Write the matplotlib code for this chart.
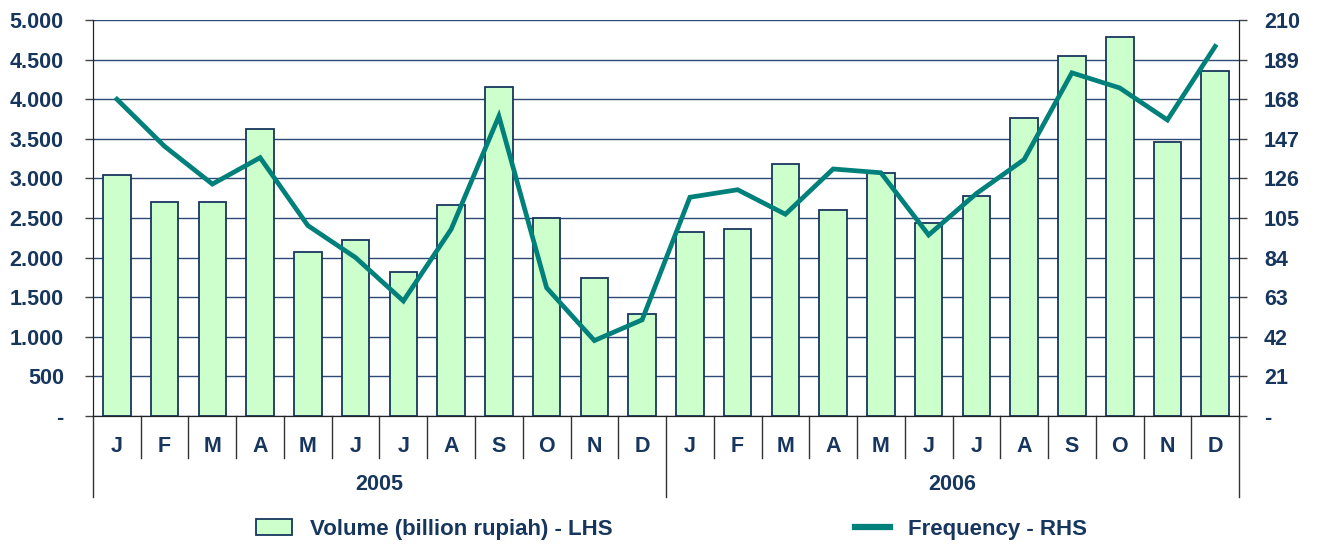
import numpy as np
import matplotlib.pyplot as plt
from matplotlib.lines import Line2D
from matplotlib.patches import Patch

plt.rcParams['font.family'] = ['Liberation Sans', 'DejaVu Sans']

months = ['J', 'F', 'M', 'A', 'M', 'J', 'J', 'A', 'S', 'O', 'N', 'D'] * 2
years = ['2005', '2006']

# volume, billion rupiah (left axis)
volume = [3045, 2705, 2700, 3630, 2075, 2228, 1815, 2670, 4148, 2505, 1745, 1285,
          2328, 2365, 3188, 2606, 3073, 2435, 2783, 3768, 4548, 4787, 3462, 4362]
# frequency (right axis)
frequency = [168, 143, 123, 137, 101, 84, 61, 99, 159, 68, 40, 51,
             116, 120, 107, 131, 129, 96, 118, 136, 182, 174, 157, 196]

navy = '#17365D'
teal = '#00807A'

fig = plt.figure(figsize=(13.17, 5.44), dpi=100)
ax = fig.add_axes([0.0706, 0.2353, 0.8702, 0.7279])
ax2 = ax.twinx()

x = np.arange(len(volume))
ax.bar(x, volume, width=0.58, color='#CCFFCC', edgecolor=navy, linewidth=1.3, zorder=2)
ax2.plot(x, frequency, color=teal, linewidth=3.4, solid_joinstyle='miter', zorder=3)

ax.set_xlim(-0.5, 23.5)
ax.set_ylim(0, 5000)
ax2.set_ylim(0, 210)

lticks = np.arange(0, 5001, 500)
ax.set_yticks(lticks)
ax.set_yticklabels(['-'] + ['{:,}'.format(v).replace(',', '.') for v in lticks[1:]])
rticks = np.arange(0, 211, 21)
ax2.set_yticks(rticks)
ax2.set_yticklabels(['-'] + [str(v) for v in rticks[1:]])

ax.yaxis.grid(True, color='#2E4A72', linewidth=1.0, zorder=0)
ax.set_axisbelow(True)
ax.set_xticks([])

for a in (ax, ax2):
    a.tick_params(axis='y', labelsize=15.5, labelcolor=navy, length=6, width=1,
                  color='#444444')
    for lab in a.get_yticklabels():
        lab.set_fontweight('bold')
    a.spines['top'].set_visible(False)
    a.spines['left'].set_color('#222222')
    a.spines['right'].set_color('#222222')
    a.spines['bottom'].set_color('#222222')
ax.tick_params(axis='y', pad=15)
ax2.tick_params(axis='y', pad=12)

# month and year labels under the axis
tr = ax.get_xaxis_transform()
for i, m in enumerate(months):
    ax.text(i, -0.076, m, transform=tr, ha='center', va='center',
            fontsize=15.5, fontweight='bold', color=navy)
for i in range(1, len(months)):
    if i % 12 != 0:
        ax.plot([i - 0.5, i - 0.5], [0, -0.106], transform=tr, color='#333333',
                linewidth=1, clip_on=False)
for i in range(0, len(months) + 1, 12):
    ax.plot([i - 0.5, i - 0.5], [0, -0.205], transform=tr, color='#333333',
            linewidth=1, clip_on=False)
for k, yr in enumerate(years):
    ax.text(k * 12 + 5.5, -0.172, yr, transform=tr, ha='center', va='center',
            fontsize=15.5, fontweight='bold', color=navy)

handles = [Patch(facecolor='#CCFFCC', edgecolor=navy, linewidth=1.3),
           Line2D([0], [0], color=teal, linewidth=4.5)]
leg = fig.legend(handles, ['Volume (billion rupiah) - LHS', 'Frequency - RHS'],
                 loc='center', bbox_to_anchor=(0.51, 0.027), ncol=2, frameon=False,
                 fontsize=16, handlelength=1.6, handletextpad=0.8, columnspacing=10.9,
                 borderpad=0.1)
for t in leg.get_texts():
    t.set_fontweight('bold')
    t.set_color(navy)

fig.savefig('out.png', dpi=100)
